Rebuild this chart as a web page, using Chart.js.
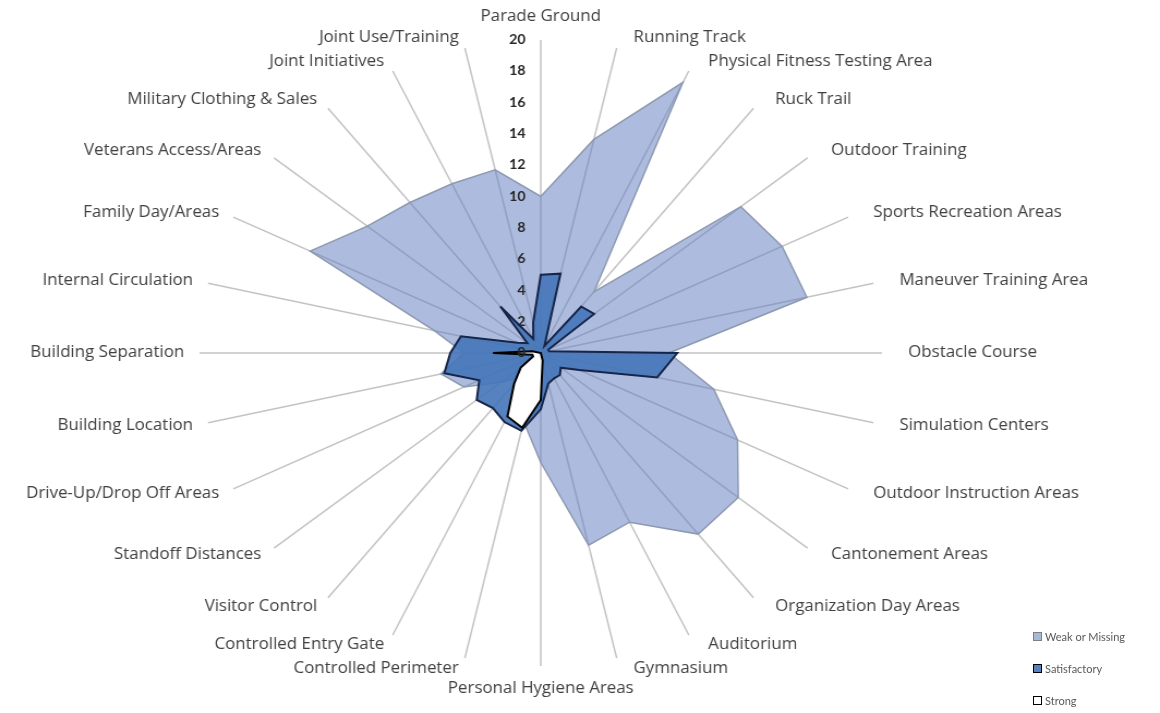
<!DOCTYPE html>
<html>
<head>
<meta charset="utf-8">
<script src="https://cdn.jsdelivr.net/npm/chart.js@4.4.0/dist/chart.umd.min.js"></script>
<style>
  body { margin: 0; background: #fff; }
  #wrap { position: relative; width: 1160px; height: 713px; overflow: hidden; }
  #radar { display: block; }
  #legend { position: absolute; left: 1033px; top: 628px; font-family: Lato, "Liberation Sans", sans-serif; font-size: 11px; color: #595959; }
  #legend div { height: 18px; line-height: 18px; margin-bottom: 14px; white-space: nowrap; }
  #legend span { display: inline-block; width: 7px; height: 7px; margin-right: 3px; }
</style>
</head>
<body>
<div id="wrap">
  <!-- drawn 1064 wide, shown 1160 wide: the reference picture is stretched sideways -->
  <canvas id="radar" width="1064" height="713" style="width:1160px;height:713px"></canvas>
  <div id="legend"></div>
</div>
<script>
const categories = [
    'Parade Ground', 'Running Track', 'Physical Fitness Testing Area', 'Ruck Trail',
    'Outdoor Training', 'Sports Recreation Areas', 'Maneuver Training Area', 'Obstacle Course',
    'Simulation Centers', 'Outdoor Instruction Areas', 'Cantonement Areas', 'Organization Day Areas',
    'Auditorium', 'Gymnasium', 'Personal Hygiene Areas', 'Controlled Perimeter',
    'Controlled Entry Gate', 'Visitor Control', 'Standoff Distances', 'Drive-Up/Drop Off Areas',
    'Building Location', 'Building Separation', 'Internal Circulation', 'Family Day/Areas',
    'Veterans Access/Areas', 'Military Clothing & Sales', 'Joint Initiatives', 'Joint Use/Training'
];

// values
const weakOrMissing = [10, 14, 19.2, 5, 15, 15.7, 16, 7.5, 10.4, 12.8, 14.8, 14.8, 12, 12.6,
                       7, 4.5, 3, 2, 3, 5, 6, 4.5, 6.4, 15, 13, 12.3, 12, 12];
const satisfactory = [5, 5.2, 0.5, 3.8, 4, 0.5, 0.5, 8, 7, 2.5, 1.5, 1.8, 1.8, 2,
                      3.6, 5.1, 4.9, 4.5, 4.8, 4, 5.8, 5.3, 4.8, 1.5, 1, 3.8, 1, 2];
const strong = [0, 0, 0, 0, 0, 0, 0, 0, 0, 0, 0, 0, 0, 0.5,
                3, 4.9, 4.5, 2.5, 1.5, 0.5, 0.5, 2.8, 0.5, 0, 0, 0, 0, 0];

const axisMax = 20;
const axisStep = 2;

// tick numbers sit left of the vertical axis, on top of the fills
const tickLabels = {
    id: 'tickLabels',
    afterDatasetsDraw(chart) {
        const s = chart.scales.r;
        const c = chart.ctx;
        c.save();
        c.font = 'bold 13px Lato, "Liberation Sans", sans-serif';
        c.fillStyle = '#262626';
        c.textAlign = 'right';
        c.textBaseline = 'middle';
        s.ticks.forEach(t => {
            const y = s.yCenter - s.getDistanceFromCenterForValue(t.value);
            c.fillText(String(t.value), s.xCenter - 14, y);
        });
        c.restore();
    }
};

// category names placed like Excel does: vertically centred on a ring
// just outside the plot, pushed a bit sideways away from the spoke
const categoryLabels = {
    id: 'categoryLabels',
    afterDraw(chart) {
        const s = chart.scales.r;
        const c = chart.ctx;
        c.save();
        c.font = '15.5px "Open Sans", Lato, sans-serif';
        c.fillStyle = '#404040';
        c.textBaseline = 'middle';
        categories.forEach((name, i) => {
            const sin = Math.sin(s.getIndexAngle(i));
            if (Math.abs(sin) < 0.01) {
                const p = s.getPointPosition(i, s.drawingArea + 23);
                c.textAlign = 'center';
                c.fillText(name, p.x, p.y);
            } else {
                const p = s.getPointPosition(i, s.drawingArea + 11);
                c.textAlign = sin > 0 ? 'left' : 'right';
                c.fillText(name, p.x + (sin > 0 ? 13 : -3), p.y);
            }
        });
        c.restore();
    }
};

const chart = new Chart(document.getElementById('radar').getContext('2d'), {
    type: 'radar',
    data: {
        labels: categories,
        datasets: [{
            label: 'Weak or Missing',
            data: weakOrMissing,
            backgroundColor: 'rgba(100, 128, 192, 0.53)',
            borderColor: '#8d99b0',
            borderWidth: 1.5,
            fill: true,
            order: 3
        }, {
            label: 'Satisfactory',
            data: satisfactory,
            backgroundColor: 'rgba(68, 118, 184, 0.9)',
            borderColor: '#17254a',
            borderWidth: 2,
            fill: true,
            order: 2
        }, {
            label: 'Strong',
            data: strong,
            backgroundColor: '#ffffff',
            borderColor: '#000000',
            borderWidth: 2,
            fill: true,
            order: 1
        }]
    },
    options: {
        responsive: false,
        animation: false,
        layout: {
            padding: { top: 40, bottom: 47, left: 0, right: 72 }
        },
        elements: {
            point: { radius: 0, hoverRadius: 0 },
            line: { tension: 0 }
        },
        scales: {
            r: {
                min: 0,
                max: axisMax,
                beginAtZero: true,
                ticks: { stepSize: axisStep, display: false },
                grid: { display: false },
                angleLines: { display: true, color: '#c3c3c3', lineWidth: 1.5 },
                pointLabels: { display: false }
            }
        },
        plugins: {
            legend: { display: false },
            tooltip: { enabled: false }
        }
    },
    plugins: [tickLabels, categoryLabels]
});

// legend, built from the datasets
const legendBox = document.getElementById('legend');
chart.data.datasets.forEach(ds => {
    const row = document.createElement('div');
    const sw = document.createElement('span');
    sw.style.background = ds.label === 'Weak or Missing' ? '#a8b8d8' : ds.backgroundColor;
    sw.style.border = '1.5px solid ' + (ds.label === 'Weak or Missing' ? '#7f7f7f' : '#000');
    row.appendChild(sw);
    row.appendChild(document.createTextNode(ds.label));
    legendBox.appendChild(row);
});
</script>
</body>
</html>
